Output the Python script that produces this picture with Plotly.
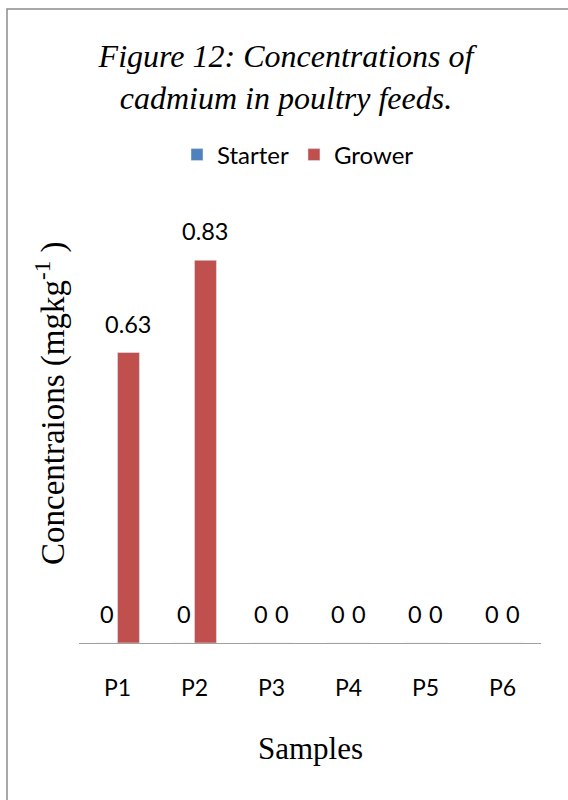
import plotly.graph_objects as go

# Cadmium concentrations (mg/kg) in poultry feed samples
samples = ["P1", "P2", "P3", "P4", "P5", "P6"]
starter = [0, 0, 0, 0, 0, 0]
grower = [0.63, 0.83, 0, 0, 0, 0]
label_starter = ["0", "0", "0", "0", "0", "0"]
label_grower = ["0.63", "0.83", "0", "0", "0", "0"]

BLUE = "#4F81BD"
RED = "#C0504D"
SANS = "Lato, 'Liberation Sans', sans-serif"
SERIF = "'Liberation Serif', 'Times New Roman', serif"

W, H = 568, 800
L, R, T, B = 79, 27, 228, 157
pw, ph = W - L - R, H - T - B


def px_x(x):
    return (x - L) / pw


def px_y(y):
    return (H - B - y) / ph


fig = go.Figure()
fig.add_trace(go.Bar(name="Starter", x=samples, y=starter, marker_color=BLUE))
fig.add_trace(go.Bar(name="Grower", x=samples, y=grower, marker_color=RED))

# value labels above each bar
half = pw / len(samples) * (1 - 0.43) / 4
annotations = []
for vals, labels, shift in ((starter, label_starter, -half), (grower, label_grower, half)):
    for cat, v, t in zip(samples, vals, labels):
        annotations.append(dict(
            x=cat, y=v, text=t, showarrow=False, xshift=shift, yshift=13,
            xanchor="center", yanchor="bottom",
            font=dict(family=SANS, size=23.5, color="black"),
        ))

# axis titles
annotations.append(dict(
    xref="paper", yref="paper", x=px_x(310), y=px_y(748), text="Samples",
    xanchor="center", yanchor="middle",
    showarrow=False, font=dict(family=SERIF, size=31, color="black"),
))
annotations.append(dict(
    xref="paper", yref="paper", x=px_x(50), y=px_y(403),
    text="Concentraions (mgkg<sup>-1</sup> )", textangle=-90,
    xanchor="center", yanchor="middle",
    showarrow=False, font=dict(family=SERIF, size=33, color="black"),
))

fig.update_layout(
    width=W, height=H,
    margin=dict(l=L, r=R, t=T, b=B, autoexpand=False),
    paper_bgcolor="white", plot_bgcolor="white",
    barmode="group", bargap=0.43, bargroupgap=0,
    title=dict(
        text="<i>Figure 12: Concentrations of<br>cadmium in poultry feeds.</i>",
        x=286 / W, xanchor="center", xref="container",
        y=1 - 67 / H, yanchor="top", yref="container",
        font=dict(family=SERIF, size=32, color="black"),
    ),
    legend=dict(
        orientation="h", x=px_x(177), xanchor="left", y=px_y(155), yanchor="middle",
        font=dict(family=SANS, size=24, color="black"), bgcolor="rgba(0,0,0,0)",
        itemclick=False,
    ),
    xaxis=dict(
        showline=True, linecolor="#A0A0A0", linewidth=1, ticks="", showgrid=False,
        tickfont=dict(family=SANS, size=23, color="black"), ticklabelstandoff=24,
    ),
    yaxis=dict(
        range=[0, 0.9], showline=False, showgrid=False, zeroline=False,
        showticklabels=False, ticks="",
    ),
    annotations=annotations,
    shapes=[dict(
        type="rect", xref="paper", yref="paper",
        x0=px_x(7), x1=px_x(W + 20), y0=px_y(H + 20), y1=px_y(9),
        line=dict(color="#8C8C8C", width=1.5), fillcolor="rgba(0,0,0,0)", layer="below",
    )],
)

fig.write_html("out.html")
